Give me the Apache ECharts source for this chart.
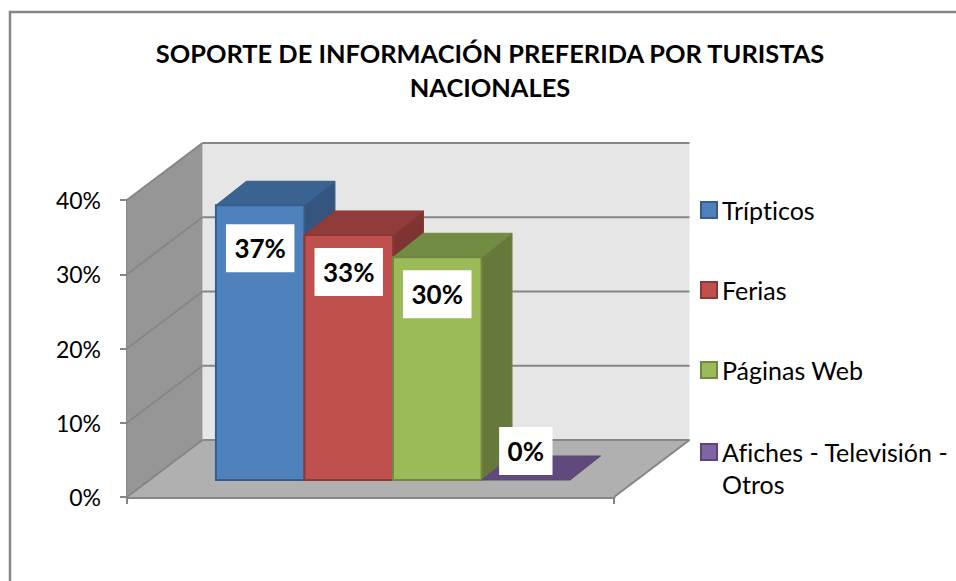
<!DOCTYPE html>
<html>
<head>
<meta charset="utf-8">
<style>html,body{margin:0;padding:0;background:#fff}#c{width:956px;height:581px}#c text{font-variant-ligatures:none}</style>
<script src="https://cdn.jsdelivr.net/npm/echarts@6/dist/echarts.min.js"></script>
</head>
<body>
<div id="c"></div>
<script>
const titleText = 'SOPORTE DE INFORMACIÓN PREFERIDA POR TURISTAS\nNACIONALES';
const categories = ['Soporte'];
const seriesNames = ['Trípticos', 'Ferias', 'Páginas Web', 'Afiches - Televisión - Otros'];
const seriesValues = [0.37, 0.33, 0.30, 0];
const valueLabels = ['37%', '33%', '30%', '0%'];
const yTicks = [0, 0.1, 0.2, 0.3, 0.4];

const faceColors = ['#4F81BD', '#C0504D', '#9BBB59', '#8064A2'];
const topColors = ['#3C6291', '#8F3C3A', '#738C43', '#604A7B'];
const sideColors = ['#33557F', '#7F3432', '#66793B', '#544069'];
const edgeColors = ['#385D8A', '#8C3836', '#71893F', '#5C4776'];
const labelOffsets = [43, 37, 37, -29];

const FONT = 'Lato';
const GRAY = '#868686';
const wallDx = 75.5, wallDy = -57;
const baseDx = 22.5, baseDy = -17;
const barDx = 30.5, barDy = -24;
const gapBands = 5.5;

function poly(points, fill, stroke, lw) {
  return { type: 'polygon', shape: { points }, style: { fill, stroke: stroke || fill, lineWidth: lw || 0 } };
}
function seg(a, b, lw) {
  return { type: 'line', shape: { x1: a[0], y1: a[1], x2: b[0], y2: b[1] }, style: { stroke: GRAY, lineWidth: lw } };
}

function renderWalls(params, api) {
  const band = api.size([1, 0])[0];
  const c = api.coord([0, 0]);
  const xl = c[0] - band / 2, xr = c[0] + band / 2, y0 = c[1];
  const yt = api.coord([0, yTicks[yTicks.length - 1]])[1];
  return {
    type: 'group',
    children: [
      poly([[xl + wallDx, yt + wallDy], [xr + wallDx, yt + wallDy], [xr + wallDx, y0 + wallDy], [xl + wallDx, y0 + wallDy]], '#E6E6E6'),
      poly([[xl, yt], [xl + wallDx, yt + wallDy], [xl + wallDx, y0 + wallDy], [xl, y0]], '#969696'),
      poly([[xl, y0], [xr, y0], [xr + wallDx, y0 + wallDy], [xl + wallDx, y0 + wallDy]], '#B0B0B0'),
      seg([xr, y0], [xr + wallDx, y0 + wallDy], 2)
    ]
  };
}

function renderGrid(params, api) {
  const band = api.size([1, 0])[0];
  const cx = api.coord([0, 0])[0];
  const y = api.coord([0, api.value(0)])[1];
  const xl = cx - band / 2, xr = cx + band / 2;
  return {
    type: 'group',
    children: [
      seg([xl, y], [xl + wallDx, y + wallDy], 2),
      seg([xl + wallDx, y + wallDy], [xr + wallDx, y + wallDy], 2)
    ]
  };
}

function barRenderer(i) {
  return function (params, api) {
    const band = api.size([1, 0])[0];
    const w = band / gapBands;
    const c = api.coord([api.value(0), 0]);
    const v = api.value(1);
    const x1 = c[0] + (i - 2) * w + baseDx, x2 = x1 + w;
    const yb = c[1] + baseDy;
    const yt = api.coord([api.value(0), v])[1] + baseDy;
    const kids = [];
    const e = edgeColors[i];
    if (v > 0) {
      kids.push(poly([[x2, yt], [x2 + barDx, yt + barDy], [x2 + barDx, yb + barDy], [x2, yb]], sideColors[i], e, 1));
    }
    kids.push(poly([[x1, yt], [x1 + barDx, yt + barDy], [x2 + barDx, yt + barDy], [x2, yt]], topColors[i], e, 1));
    if (v > 0) {
      kids.push(poly([[x1, yt], [x2, yt], [x2, yb], [x1, yb]], faceColors[i], e, 2));
    }
    kids.push({
      type: 'text',
      style: {
        x: (x1 + x2) / 2, y: yt + labelOffsets[i],
        text: valueLabels[i], align: 'center', verticalAlign: 'middle',
        fontFamily: FONT, fontWeight: 'bold', fontSize: 26, fill: '#000',
        backgroundColor: '#fff', padding: [12, 8.5, 10, 8.5]
      }
    });
    return { type: 'group', children: kids };
  };
}

const chart = echarts.init(document.getElementById('c'), null, { renderer: 'svg' });

const series = [
  { type: 'custom', name: '_walls', silent: true, renderItem: renderWalls, data: [[0]], encode: { x: [], y: [] }, z: 1 },
  { type: 'custom', name: '_grid', silent: true, renderItem: renderGrid, data: yTicks.map(t => [t]), encode: { x: [], y: 0 }, z: 2 }
].concat(seriesNames.map((name, i) => ({
  type: 'custom',
  name,
  renderItem: barRenderer(i),
  data: [[0, seriesValues[i]]],
  encode: { x: 0, y: 1 },
  itemStyle: { color: faceColors[i] },
  z: 3 + i
})));

function legendItem(i) {
  return { name: seriesNames[i], icon: 'rect', itemStyle: { color: faceColors[i], borderColor: edgeColors[i], borderWidth: 2 } };
}
const legendText = { fontFamily: FONT, fontSize: 25, color: '#000', lineHeight: 32 };

chart.setOption({
  animation: false,
  backgroundColor: '#fff',
  title: {
    text: titleText,
    left: 485, top: 31, textAlign: 'center',
    textStyle: { fontFamily: FONT, fontSize: 25.4, fontWeight: 'bold', color: '#000', lineHeight: 34 }
  },
  graphic: [{
    type: 'polyline', silent: true, z: 100,
    shape: { points: [[10, 581], [10, 12], [956, 12]] },
    style: { stroke: GRAY, lineWidth: 2.5, fill: null }
  }],
  grid: { left: 127, right: 342, top: 200, bottom: 84 },
  legend: [
    { data: [0, 1, 2].map(legendItem), orient: 'vertical', left: 695, top: 189, itemWidth: 16, itemHeight: 16, itemGap: 48, textStyle: legendText, selectedMode: false },
    { data: [legendItem(3)], orient: 'vertical', left: 695, top: 399, itemWidth: 16, itemHeight: 16, textStyle: legendText, selectedMode: false,
      formatter: () => ' \nAfiches - Televisión -\nOtros' }
  ],
  xAxis: {
    type: 'category', data: categories,
    axisLine: { lineStyle: { color: GRAY, width: 3 } },
    axisTick: { show: true, length: 7, lineStyle: { color: GRAY, width: 2 } },
    axisLabel: { show: false },
    splitLine: { show: false }
  },
  yAxis: {
    type: 'value', min: 0, max: 0.4, interval: 0.1,
    axisLine: { show: true, lineStyle: { color: GRAY, width: 3 } },
    axisTick: { show: true, length: 7, lineStyle: { color: GRAY, width: 2 } },
    axisLabel: { formatter: v => Math.round(v * 100) + '%', fontFamily: FONT, fontSize: 23, color: '#000', margin: 26, padding: [9, 0, 0, 0] },
    splitLine: { show: false }
  },
  series
});
</script>
</body>
</html>
